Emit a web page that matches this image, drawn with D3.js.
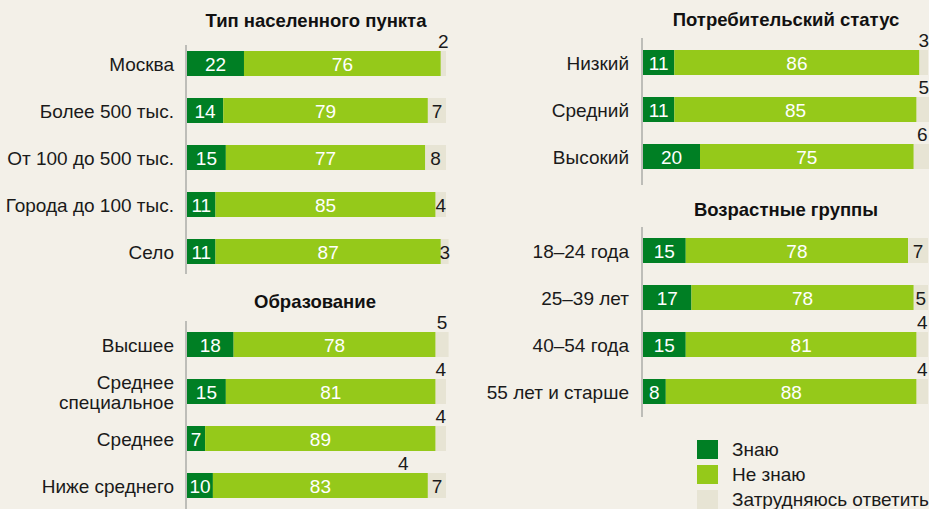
<!DOCTYPE html>
<html><head><meta charset="utf-8">
<script src="https://cdn.jsdelivr.net/npm/d3@7"></script>
<style>
html,body{margin:0;padding:0;background:#f3f0e8;}
svg{display:block;font-family:"Liberation Sans",Arial,sans-serif;}
</style></head><body>
<svg id="c" width="929" height="509"></svg>
<script>
// ---- data ----
const seriesNames = ["Знаю", "Не знаю", "Затрудняюсь ответить"];
const seriesColors = ["#007f24", "#95c91a", "#e7e4d4"];

const settlementTitle = "Тип населенного пункта";
const settlementCats = ["Москва", "Более 500 тыс.", "От 100 до 500 тыс.", "Города до 100 тыс.", "Село"];
const settlementKnow = [22, 14, 15, 11, 11];
const settlementDontKnow = [76, 79, 77, 85, 87];
const settlementHard = [2, 7, 8, 4, 3];
const settlementHardAbove = [true, false, false, false, false];

const educationTitle = "Образование";
const educationCats = ["Высшее", "Среднее\nспециальное", "Среднее", "Ниже среднего"];
const educationKnow = [18, 15, 7, 10];
const educationDontKnow = [78, 81, 89, 83];
const educationHard = [5, 4, 4, 7];
const educationHardAbove = [true, true, true, false];
const educationExtraLabel = {row: 3, at: 83.5, text: "4"};

const statusTitle = "Потребительский статус";
const statusCats = ["Низкий", "Средний", "Высокий"];
const statusKnow = [11, 11, 20];
const statusDontKnow = [86, 85, 75];
const statusHard = [3, 5, 6];
const statusHardAbove = [true, true, true];

const ageTitle = "Возрастные группы";
const ageCats = ["18–24 года", "25–39 лет", "40–54 года", "55 лет и старше"];
const ageKnow = [15, 17, 15, 8];
const ageDontKnow = [78, 78, 81, 88];
const ageHard = [7, 5, 4, 4];
const ageHardAbove = [false, false, true, true];

// ---- drawing ----
const svg = d3.select("#c");
const color = d3.scaleOrdinal().domain(seriesNames).range(seriesColors);
const STEP = 47, BAR = 25, FS = 19, TFS = 18.5;

function panel(opt) {
  const {title, cats, know, dont, hard, above, x0, x1, top, axisTop, axisBottom, titleX, titleY, labelX, extra} = opt;
  const n = cats.length;
  const x = d3.scaleLinear().domain([0, 100]).range([x0, x1]);
  const y = d3.scaleBand().domain(d3.range(n))
    .range([top, top + (n - 1) * STEP + BAR]).paddingInner((STEP - BAR) / STEP).paddingOuter(0);
  const g = svg.append("g");
  g.append("text").attr("x", titleX).attr("y", titleY).attr("text-anchor", "middle")
    .attr("font-weight", "bold").attr("font-size", TFS).attr("fill", "#111").text(title);
  g.append("line").attr("x1", x0 - 1).attr("x2", x0 - 1).attr("y1", axisTop).attr("y2", axisBottom)
    .attr("stroke", "#bdbdb8").attr("stroke-width", 2);
  const rows = cats.map((c, i) => ({c, i, vals: [know[i], dont[i], hard[i]]}));
  rows.forEach(r => {
    const stack = d3.stack().keys([0, 1, 2])([r.vals]);
    stack.forEach((s, k) => {
      const d0 = s[0][0], d1 = s[0][1];
      g.append("rect").attr("x", x(d0)).attr("y", y(r.i)).attr("width", x(d1) - x(d0)).attr("height", y.bandwidth())
        .attr("fill", color(seriesNames[k]));
      const cx = (x(d0) + x(d1)) / 2;
      if (k < 2) {
        g.append("text").attr("x", cx).attr("y", y(r.i) + y.bandwidth() / 2 + 7).attr("text-anchor", "middle")
          .attr("font-size", FS).attr("fill", "#fff").text(r.vals[k]);
      } else {
        const isAbove = above[r.i];
        g.append("text").attr("x", cx).attr("y", isAbove ? y(r.i) - 3 : y(r.i) + y.bandwidth() / 2 + 7)
          .attr("text-anchor", "middle").attr("font-size", FS).attr("fill", "#1a1a1a").text(r.vals[k]);
      }
    });
    const lines = r.c.split("\n");
    const t = g.append("text").attr("text-anchor", "end").attr("font-size", FS).attr("fill", "#1a1a1a");
    const cy = y(r.i) + y.bandwidth() / 2 + 7.5 - (lines.length - 1) * 10;
    lines.forEach((ln, j) => t.append("tspan").attr("x", labelX).attr("y", cy + j * 20).text(ln));
  });
  if (extra) {
    g.append("text").attr("x", x(extra.at)).attr("y", y(extra.row) - 3).attr("text-anchor", "middle")
      .attr("font-size", FS).attr("fill", "#1a1a1a").text(extra.text);
  }
}

panel({title: settlementTitle, cats: settlementCats, know: settlementKnow, dont: settlementDontKnow,
  hard: settlementHard, above: settlementHardAbove, x0: 187, x1: 446, top: 51, axisTop: 45, axisBottom: 274,
  titleX: 316, titleY: 27, labelX: 174});
panel({title: educationTitle, cats: educationCats, know: educationKnow, dont: educationDontKnow,
  hard: educationHard, above: educationHardAbove, x0: 187, x1: 446, top: 332, axisTop: 321, axisBottom: 509,
  titleX: 315, titleY: 308, labelX: 174, extra: educationExtraLabel});
panel({title: statusTitle, cats: statusCats, know: statusKnow, dont: statusDontKnow,
  hard: statusHard, above: statusHardAbove, x0: 643, x1: 928, top: 50, axisTop: 38, axisBottom: 185,
  titleX: 786, titleY: 26, labelX: 629});
panel({title: ageTitle, cats: ageCats, know: ageKnow, dont: ageDontKnow,
  hard: ageHard, above: ageHardAbove, x0: 643, x1: 928, top: 238, axisTop: 227, axisBottom: 417,
  titleX: 786, titleY: 216, labelX: 629});

// legend
const lg = svg.append("g");
seriesNames.forEach((s, i) => {
  lg.append("rect").attr("x", 697).attr("y", 440 + i * 25).attr("width", 21).attr("height", 19).attr("fill", color(s));
  lg.append("text").attr("x", 732).attr("y", 456 + i * 25).attr("font-size", FS).attr("fill", "#1a1a1a").text(s);
});
</script>
</body></html>
